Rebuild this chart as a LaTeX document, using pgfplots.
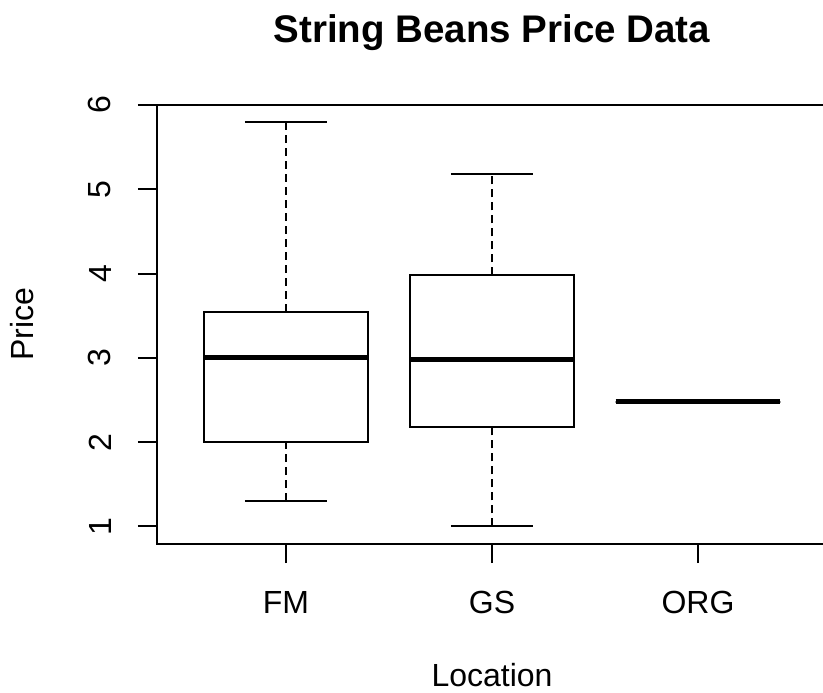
\documentclass[border=0pt]{standalone}
\usepackage{fontspec}
\setmainfont{Liberation Sans}
\usepackage{pgfplots}
\pgfplotsset{compat=1.18}
\usepgfplotslibrary{statistics}

% R-style boxplot pieces: dashed whisker, solid staple
\pgfplotsset{
  boxplot/draw/lower whisker/.code={
    \draw[dash pattern=on 4pt off 2.5pt]
      (boxplot box cs:\pgfplotsboxplotvalue{lower whisker},0.5) --
      (boxplot box cs:\pgfplotsboxplotvalue{lower quartile},0.5);
    \draw (boxplot whisker cs:\pgfplotsboxplotvalue{lower whisker},0) --
      (boxplot whisker cs:\pgfplotsboxplotvalue{lower whisker},1);
  },
  boxplot/draw/upper whisker/.code={
    \draw[dash pattern=on 4pt off 2.5pt]
      (boxplot box cs:\pgfplotsboxplotvalue{upper quartile},0.5) --
      (boxplot box cs:\pgfplotsboxplotvalue{upper whisker},0.5);
    \draw (boxplot whisker cs:\pgfplotsboxplotvalue{upper whisker},0) --
      (boxplot whisker cs:\pgfplotsboxplotvalue{upper whisker},1);
  },
}

\begin{document}
\begin{tikzpicture}
\begin{axis}[
  at={(78.5pt,74pt)}, anchor=south west,
  scale only axis, width=335pt, height=219.5pt,
  xmin=0.374, xmax=3.626, ymin=0.792, ymax=6.0,
  xtick={1,2,3}, xticklabels={FM,GS,ORG},
  ytick={1,2,3,4,5,6},
  xtick pos=lower, ytick pos=left,
  tick align=outside, major tick length=9.5pt,
  axis line style={line width=1pt},
  tick style={line width=1pt, black},
  ticklabel style={font=\fontsize{16}{19}\selectfont, inner sep=0pt},
  yticklabel style={rotate=90, anchor=south},
  xticklabel style={anchor=north},
  yticklabel shift=13.25pt,
  xticklabel shift=14pt,
  /pgf/number format/assume math mode=true,
  title={String Beans Price Data},
  title style={font=\fontsize{19.25}{23}\selectfont\bfseries,
    at={(axis description cs:0.5,1.1366)}, anchor=center, yshift=0pt},
  xlabel={Location},
  xlabel style={font=\fontsize{16}{19}\selectfont,
    at={(axis description cs:0.5,-0.298)}, anchor=center},
  ylabel={Price},
  ylabel style={font=\fontsize{16}{19}\selectfont,
    at={(axis description cs:-0.2015,0.5)}, anchor=center},
  boxplot/draw direction=y,
  boxplot/box extend=0.8,
  boxplot/whisker extend=0.4,
  boxplot/every median/.style={line width=2.5pt},
]
% FM
\addplot[black, line width=1pt, boxplot prepared={draw position=1,
  lower whisker=1.3, lower quartile=2.0, median=3.0,
  upper quartile=3.55, upper whisker=5.8}] coordinates {};
% GS
\addplot[black, line width=1pt, boxplot prepared={draw position=2,
  lower whisker=1.0, lower quartile=2.18, median=2.98,
  upper quartile=3.98, upper whisker=5.18}] coordinates {};
% ORG
\addplot[black, line width=1pt, boxplot prepared={draw position=3,
  lower whisker=2.48, lower quartile=2.48, median=2.48,
  upper quartile=2.48, upper whisker=2.48}] coordinates {};
\end{axis}
\pgfresetboundingbox
\useasboundingbox (0,0) rectangle (411.5pt,346pt);
\end{tikzpicture}
\end{document}
